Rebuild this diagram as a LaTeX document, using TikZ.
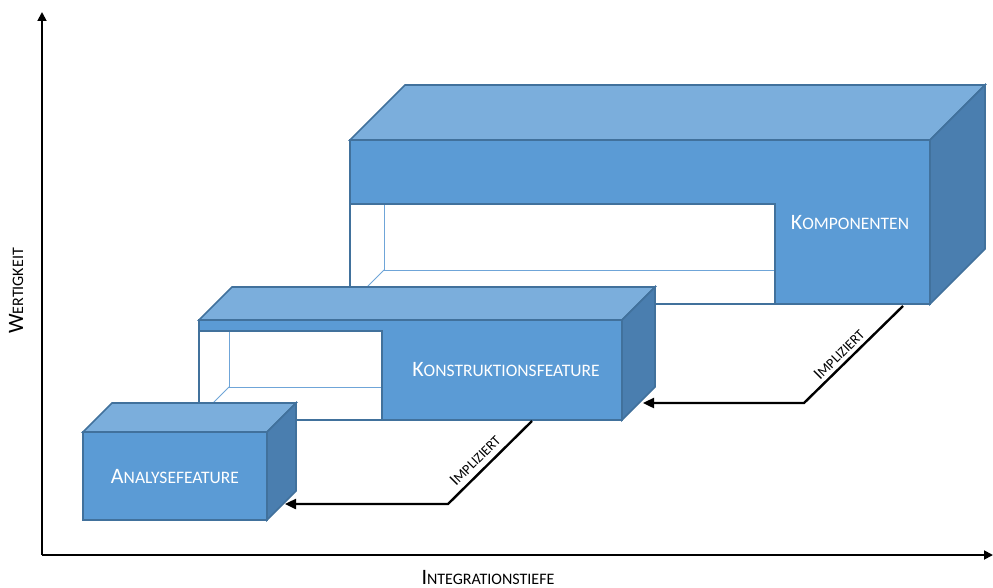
\documentclass[tikz,border=0pt]{standalone}
\usepackage{fontspec}
\setmainfont{Carlito}
\usetikzlibrary{arrows.meta}

\definecolor{topface}{HTML}{7BAEDC}
\definecolor{frontface}{HTML}{5B9BD5}
\definecolor{sideface}{HTML}{4A7EAF}
\definecolor{boxedge}{HTML}{41719C}
\definecolor{innerline}{HTML}{6FA5D8}

% small caps built from two sizes: first letter large, rest smaller capitals
\newcommand\fakesc[4]{{\fontsize{#1}{#1}\selectfont #3\fontsize{#2}{#2}\selectfont #4}}

\begin{document}
\begin{tikzpicture}[x=1pt,y=-1pt,
    facetop/.style={fill=topface,draw=boxedge,line width=1.6pt,line join=miter},
    facefront/.style={fill=frontface,draw=boxedge,line width=1.6pt,line join=miter},
    faceside/.style={fill=sideface,draw=boxedge,line width=1.6pt,line join=miter},
    hollow/.style={fill=white,draw=boxedge,line width=1.6pt,line join=miter},
    depthline/.style={draw=innerline,line width=0.9pt},
    boxlabel/.style={text=white,inner sep=0pt,anchor=center},
    axis/.style={draw=black,line width=1.8pt,-{Triangle[length=9pt,width=9pt]}},
    implies/.style={draw=black,line width=2.4pt,line join=miter,-{Triangle[length=11pt,width=10pt]}},
    axislabel/.style={text=black,inner sep=0pt},
    arrowlabel/.style={text=black,inner sep=0pt,rotate=45}]
\useasboundingbox (0,0) rectangle (993,588);

% axes
\coordinate (origin) at (42,555);
\coordinate (ytip) at (42,12);
\coordinate (xtip) at (993,555);
\draw[axis] (origin) -- (ytip);
\draw[axis] (origin) -- (xtip);
\node[axislabel,rotate=90] (ylabel) at (16,291) {\fakesc{22pt}{16pt}{W}{ERTIGKEIT}};
\node[axislabel] (xlabel) at (488,577) {\fakesc{22pt}{16pt}{I}{NTEGRATIONSTIEFE}};

% Komponenten
\draw[facetop] (350,140) -- (405,85) -- (985,85) -- (930,140) -- cycle;
\draw[faceside] (930,140) -- (985,85) -- (985,249) -- (930,304) -- cycle;
\draw[facefront] (350,140) rectangle (930,304);
\draw[hollow] (350,204) rectangle (775,304);
\draw[depthline] (384,205) -- (384,270) -- (774,270);
\draw[depthline] (384,270) -- (351,303);
\coordinate (kompfoot) at (903,306);
\node[boxlabel] (komp) at (850,223) {\fakesc{22pt}{17.5pt}{K}{OMPONENTEN}};

% Konstruktionsfeature
\draw[facetop] (199,320) -- (232,287) -- (655,287) -- (622,320) -- cycle;
\draw[faceside] (622,320) -- (655,287) -- (655,387) -- (622,420) -- cycle;
\draw[facefront] (199,320) rectangle (622,420);
\draw[hollow] (199,331) rectangle (382,420);
\draw[depthline] (229,332) -- (229,387) -- (381,387);
\draw[depthline] (229,387) -- (200,416);
\coordinate (konsfoot) at (532,421);
\coordinate (konsside) at (643,403);
\node[boxlabel] (kons) at (506,370) {\fakesc{22pt}{17.5pt}{K}{ONSTRUKTIONSFEATURE}};

% Analysefeature
\draw[facetop] (83,432) -- (112,403) -- (296,403) -- (267,432) -- cycle;
\draw[faceside] (267,432) -- (296,403) -- (296,491) -- (267,520) -- cycle;
\draw[facefront] (83,432) rectangle (267,520);
\coordinate (anaside) at (285,504);
\node[boxlabel] (ana) at (175,477) {\fakesc{22pt}{17.5pt}{A}{NALYSEFEATURE}};

% implication arrows
\coordinate (bendA) at (448,504);
\coordinate (bendB) at (804,403);
\draw[implies] (konsfoot) -- (bendA) -- (anaside);
\draw[implies] (kompfoot) -- (bendB) -- (konsside);
\node[arrowlabel] (implA) at (475,460) {\fakesc{17pt}{14pt}{I}{MPLIZIERT}};
\node[arrowlabel] (implB) at (839,354) {\fakesc{17pt}{14pt}{I}{MPLIZIERT}};
\end{tikzpicture}
\end{document}
